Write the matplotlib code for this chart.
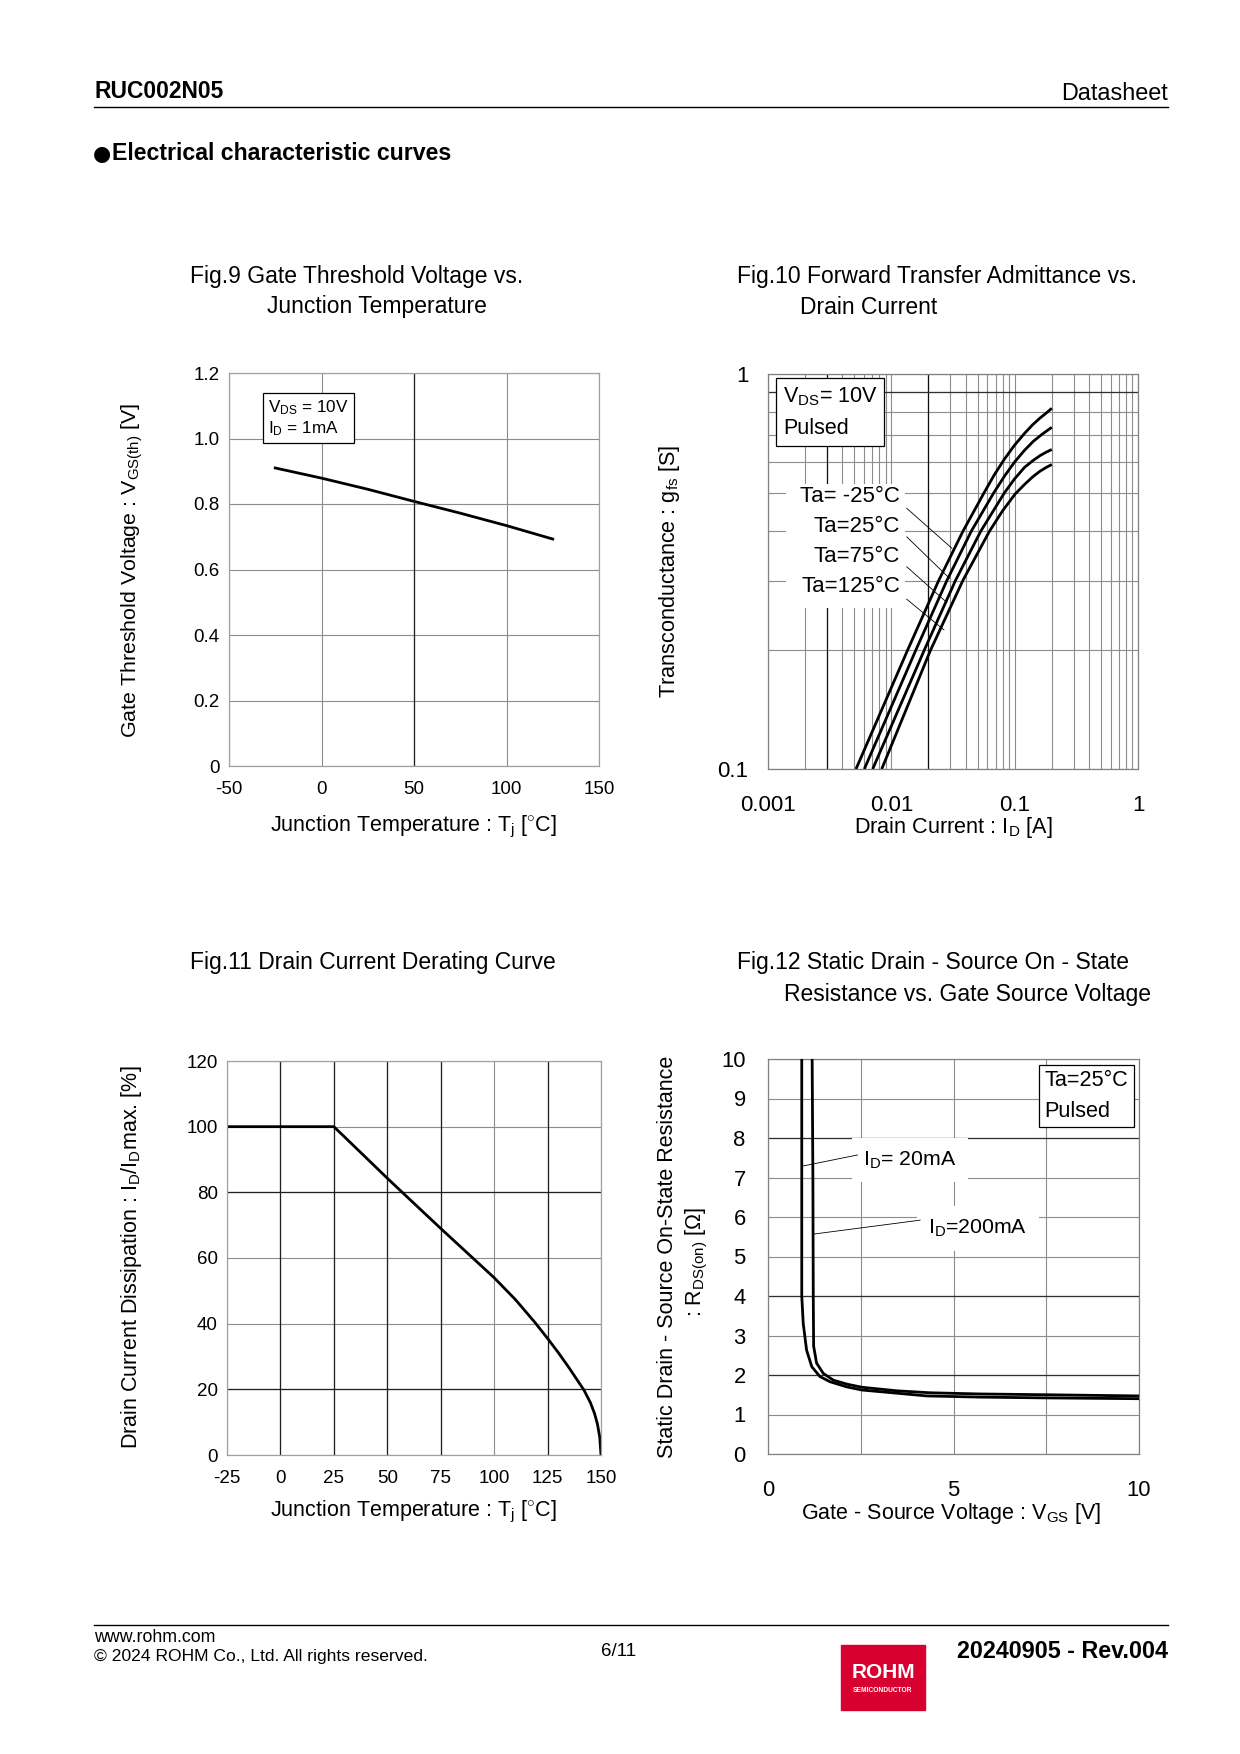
import matplotlib
matplotlib.use('Agg')
import matplotlib.pyplot as plt
from matplotlib.lines import Line2D
from matplotlib.patches import Rectangle
from matplotlib.ticker import FixedLocator, NullFormatter

plt.rcParams['font.family'] = ['Liberation Sans', 'DejaVu Sans']
plt.rcParams['mathtext.fontset'] = 'custom'
plt.rcParams['mathtext.rm'] = 'Liberation Sans'
plt.rcParams['mathtext.it'] = 'Liberation Sans:italic'
plt.rcParams['mathtext.bf'] = 'Liberation Sans:bold'
plt.rcParams['axes.unicode_minus'] = False

W, H = 1240, 1754

# ---- Fig.9 gate threshold voltage vs junction temperature
tj9 = [-25, 0, 25, 50, 75, 100, 125]
vth9 = [0.910, 0.879, 0.845, 0.808, 0.772, 0.734, 0.693]

# ---- Fig.10 forward transfer admittance vs drain current
ta_labels = ['Ta= -25°C', 'Ta=25°C', 'Ta=75°C', 'Ta=125°C']
id_m25 = [0.00517, 0.01355, 0.0242, 0.0381, 0.0564, 0.068, 0.082, 0.1, 0.122, 0.14, 0.16, 0.18, 0.2]
gfs_m25 = [0.1, 0.2, 0.3, 0.4, 0.5, 0.554, 0.607, 0.661, 0.711, 0.744, 0.773, 0.796, 0.819]
id_25 = [0.00604, 0.0158, 0.0282, 0.0445, 0.0676, 0.0832, 0.1, 0.1202, 0.1413, 0.166, 0.2]
gfs_25 = [0.1, 0.2, 0.3, 0.4, 0.5, 0.553, 0.599, 0.641, 0.675, 0.703, 0.733]
id_75 = [0.00706, 0.0185, 0.0331, 0.0531, 0.0825, 0.1, 0.12, 0.14, 0.16, 0.18, 0.2]
gfs_75 = [0.1, 0.2, 0.3, 0.4, 0.5, 0.543, 0.58, 0.603, 0.621, 0.634, 0.644]
id_125 = [0.00836, 0.0208, 0.0380, 0.0625, 0.08, 0.101, 0.12, 0.14, 0.16, 0.18, 0.2]
gfs_125 = [0.1, 0.2, 0.3, 0.4, 0.451, 0.497, 0.525, 0.549, 0.567, 0.58, 0.59]

# ---- Fig.11 drain current derating
tj11 = [-25, 25, 40, 50, 57, 75, 90, 100, 110, 118.8, 125, 130, 135, 142, 145, 147, 148.3, 149.4, 150]
id11 = [100, 100, 90.6, 84.3, 80, 69, 60, 54, 47.3, 40.6, 35.5, 31.2, 26.6, 19.8, 16, 12.6, 9.5, 5.5, 0]

# ---- Fig.12 static drain-source on-state resistance vs gate-source voltage
vgs_20 = [0.91, 0.91, 0.95, 1.04, 1.18, 1.40, 1.67, 2.12, 2.53, 3.47, 4.28, 5.71, 7.5, 10]
rds_20 = [10, 4.0, 3.3, 2.63, 2.21, 1.96, 1.83, 1.70, 1.62, 1.54, 1.47, 1.44, 1.42, 1.40]
vgs_200 = [1.19, 1.21, 1.22, 1.23, 1.31, 1.49, 1.76, 2.12, 2.53, 3.47, 4.37, 5.71, 7.5, 10]
rds_200 = [10, 7.0, 4.0, 2.73, 2.30, 2.04, 1.87, 1.77, 1.69, 1.60, 1.55, 1.52, 1.50, 1.47]


def fx(x):
    return x / W


def fy(y):
    return 1 - y / H


def add_axes(x0, y0, x1, y1):
    return fig.add_axes([fx(x0), fy(y1), (x1 - x0) / W, (y1 - y0) / H])


def style(ax, gridc='#8c8c8c', spc='#8c8c8c'):
    for s in ax.spines.values():
        s.set_color(spc)
        s.set_linewidth(0.9)
    ax.grid(True, which='both', color=gridc, lw=0.8)
    ax.set_axisbelow(True)


fig = plt.figure(figsize=(W / 100, H / 100), dpi=100)

# header / footer
fig.text(fx(94), fy(92), 'RUC002N05', fontsize=16.5, fontweight='bold', ha='left', va='center')
fig.text(fx(1168), fy(94), 'Datasheet', fontsize=16.8, ha='right', va='center')
fig.add_artist(Line2D([fx(94), fx(1168)], [fy(107), fy(107)], color='black', lw=1, transform=fig.transFigure))
fig.text(fx(93), fy(154), '●', family='DejaVu Sans', fontsize=15, ha='left', va='center')
fig.text(fx(112), fy(154), 'Electrical characteristic curves', fontsize=16.7, fontweight='bold',
         ha='left', va='center')
fig.add_artist(Line2D([fx(94), fx(1168)], [fy(1625), fy(1625)], color='black', lw=1, transform=fig.transFigure))
fig.text(fx(94), fy(1638), 'www.rohm.com', fontsize=12.8, ha='left', va='center')
fig.text(fx(94), fy(1657), '© 2024 ROHM Co., Ltd. All rights reserved.', fontsize=12.6, ha='left', va='center')
fig.text(fx(619), fy(1651), '6/11', fontsize=13.5, ha='center', va='center')
fig.text(fx(1168), fy(1651), '20240905 - Rev.004', fontsize=16.8, fontweight='bold', ha='right', va='center')
fig.add_artist(Rectangle((fx(841), fy(1710)), 84 / W, 65 / H, color='#d7002f', transform=fig.transFigure))
fig.text(fx(883), fy(1672), 'ROHM', fontsize=15, fontweight='bold', color='white', ha='center', va='center')
fig.text(fx(883), fy(1690), 'SEMICONDUCTOR', fontsize=4.8, fontweight='bold', color='white',
         ha='center', va='center')

# titles
fig.text(fx(190), fy(276), 'Fig.9 Gate Threshold Voltage vs.', fontsize=16.5, ha='left', va='center')
fig.text(fx(267), fy(307), 'Junction Temperature', fontsize=16.5, ha='left', va='center')
fig.text(fx(737), fy(276), 'Fig.10 Forward Transfer Admittance vs.', fontsize=16.5, ha='left', va='center')
fig.text(fx(800), fy(307), 'Drain Current', fontsize=16.5, ha='left', va='center')
fig.text(fx(190), fy(962), 'Fig.11 Drain Current Derating Curve', fontsize=16.5, ha='left', va='center')
fig.text(fx(737), fy(962), 'Fig.12 Static Drain - Source On - State', fontsize=16.5, ha='left', va='center')
fig.text(fx(784), fy(994), 'Resistance vs. Gate Source Voltage', fontsize=16.5, ha='left', va='center')

# ---------------- Fig.9
ax = add_axes(229, 373, 599, 766)
style(ax, spc='#a0a0a0')
ax.plot(tj9, vth9, color='black', lw=2)
ax.set_xlim(-50, 150)
ax.set_ylim(0, 1.2)
ax.set_xticks([-50, 0, 50, 100, 150])
ax.set_xticklabels(['-50', '0', '50', '100', '150'])
ax.set_yticks([0, 0.2, 0.4, 0.6, 0.8, 1.0, 1.2])
ax.set_yticklabels(['0', '0.2', '0.4', '0.6', '0.8', '1.0', '1.2'])
ax.tick_params(axis='x', length=0, pad=10.5, labelsize=13.5)
ax.tick_params(axis='y', length=0, pad=7, labelsize=13.5)
ax.axvline(50, color='#202020', lw=0.9)
ax.text(0.105, 0.935, 'V$_{\\mathrm{DS}}$ = 10V\nI$_{\\mathrm{D}}$ = 1mA', transform=ax.transAxes,
        fontsize=12.3, ha='left', va='top', linespacing=1.15,
        bbox=dict(boxstyle='square,pad=0.3', fc='white', ec='black', lw=0.9))
fig.text(fx(413), fy(827), 'Junction Temperature : T$_{\\mathrm{j}}$ [$^{\\circ}$C]', fontsize=15.5,
         ha='center', va='center')
fig.text(fx(132), fy(570), 'Gate Threshold Voltage : V$_{\\mathrm{GS(th)}}$ [V]', fontsize=15.4,
         ha='center', va='center', rotation=90)

# ---------------- Fig.10
ax = add_axes(768, 374, 1138, 769)
ax.set_xscale('log')
ax.set_yscale('log')
ax.set_xlim(0.001, 1)
ax.set_ylim(0.1, 1)
style(ax, gridc='#8c8c8c', spc='#808080')
ax.set_xticks([0.001, 0.01, 0.1, 1])
ax.set_xticklabels(['0.001', '0.01', '0.1', '1'])
ax.set_yticks([0.1, 1])
ax.set_yticklabels(['0.1', '1'])
ax.yaxis.set_minor_locator(FixedLocator([0.2, 0.3, 0.4, 0.5, 0.6, 0.7, 0.8, 0.9]))
ax.yaxis.set_minor_formatter(NullFormatter())
ax.xaxis.set_minor_formatter(NullFormatter())
ax.tick_params(which='both', length=0)
ax.tick_params(axis='x', pad=19, labelsize=16)
ax.tick_params(axis='y', pad=14, labelsize=16)
for xv in [0.003, 0.02]:
    ax.axvline(xv, color='#101010', lw=0.9, zorder=1)
ax.axhline(0.9, color='#303030', lw=0.9, zorder=1)
# white block behind the temperature labels
ax.add_patch(Rectangle((0.00141, 0.255), 0.0128 - 0.00141, 0.528 - 0.255,
                       fc='white', ec='none', zorder=2))
for xs, ys in [(id_m25, gfs_m25), (id_25, gfs_25), (id_75, gfs_75), (id_125, gfs_125)]:
    ax.plot(xs, ys, color='black', lw=2, zorder=5, solid_capstyle='butt', solid_joinstyle='round')
lab_y = [0.489, 0.411, 0.346, 0.290]
lead_start = [(0.01334, 0.457), (0.01334, 0.387), (0.01334, 0.325), (0.01334, 0.269)]
lead_end = [(0.031, 0.362), (0.0296, 0.304), (0.0282, 0.264), (0.0267, 0.225)]
for lab, ly, s, e in zip(ta_labels, lab_y, lead_start, lead_end):
    ax.text(0.0118, ly, lab, fontsize=16, ha='right', va='center', zorder=3)
    ax.plot([s[0], e[0]], [s[1], e[1]], color='black', lw=0.6, zorder=4)
ax.text(0.04, 0.972, 'V$_{\\mathrm{DS}}$= 10V\nPulsed', transform=ax.transAxes, fontsize=15.5,
        ha='left', va='top', linespacing=1.65, zorder=6,
        bbox=dict(boxstyle='square,pad=0.3', fc='white', ec='black', lw=0.9))
fig.text(fx(953), fy(828), 'Drain Current : I$_{\\mathrm{D}}$ [A]', fontsize=15.6,
         ha='center', va='center')
fig.text(fx(670), fy(571), 'Transconductance : g$_{\\mathrm{fs}}$ [S]', fontsize=15.6,
         ha='center', va='center', rotation=90)

# ---------------- Fig.11
ax = add_axes(227, 1061, 601, 1455)
style(ax, spc='#a0a0a0')
ax.plot(tj11, id11, color='black', lw=2, solid_joinstyle='round')
ax.set_xlim(-25, 150)
ax.set_ylim(0, 120)
ax.set_xticks([-25, 0, 25, 50, 75, 100, 125, 150])
ax.set_yticks([0, 20, 40, 60, 80, 100, 120])
ax.tick_params(axis='x', length=0, pad=10.5, labelsize=13.5)
ax.tick_params(axis='y', length=0, pad=6.5, labelsize=13.5)
for xv in [0, 25, 50, 75, 125]:
    ax.axvline(xv, color='#202020', lw=0.9, zorder=1)
for yv in [20, 80]:
    ax.axhline(yv, color='#202020', lw=0.9, zorder=1)
fig.text(fx(413), fy(1512), 'Junction Temperature : T$_{\\mathrm{j}}$ [$^{\\circ}$C]', fontsize=15.5,
         ha='center', va='center')
fig.text(fx(132), fy(1257), 'Drain Current Dissipation : I$_{\\mathrm{D}}$/I$_{\\mathrm{D}}$max. [%]',
         fontsize=15.5, ha='center', va='center', rotation=90)

# ---------------- Fig.12
ax = add_axes(768, 1059, 1139, 1454)
style(ax, spc='#808080')
ax.plot(vgs_20, rds_20, color='black', lw=2, zorder=5, solid_joinstyle='round')
ax.plot(vgs_200, rds_200, color='black', lw=2, zorder=5, solid_joinstyle='round')
ax.set_xlim(0, 10)
ax.set_ylim(0, 10)
ax.set_xticks([0, 5, 10])
ax.xaxis.set_minor_locator(FixedLocator([2.5, 7.5]))
ax.set_yticks(range(0, 11))
ax.tick_params(which='both', length=0)
ax.tick_params(axis='x', pad=19, labelsize=15.8)
ax.tick_params(axis='y', pad=16, labelsize=15.8)
for yv in [2, 4, 8]:
    ax.axhline(yv, color='#303030', lw=0.9, zorder=1)
ax.text(2.57, 7.44, 'I$_{\\mathrm{D}}$= 20mA', fontsize=15.3, ha='left', va='center', zorder=3,
        bbox=dict(boxstyle='square,pad=0.55', fc='white', ec='none'))
ax.plot([0.935, 2.41], [7.29, 7.57], color='black', lw=0.6, zorder=4)
ax.text(4.32, 5.71, 'I$_{\\mathrm{D}}$=200mA', fontsize=15.3, ha='left', va='center', zorder=3,
        bbox=dict(boxstyle='square,pad=0.55', fc='white', ec='none'))
ax.plot([1.25, 4.10], [5.57, 5.92], color='black', lw=0.6, zorder=4)
ax.text(0.745, 0.972, 'Ta=25°C\nPulsed', transform=ax.transAxes, fontsize=15.6,
        ha='left', va='top', linespacing=1.6, zorder=6,
        bbox=dict(boxstyle='square,pad=0.25', fc='white', ec='black', lw=0.9))
fig.text(fx(951), fy(1513), 'Gate - Source Voltage : V$_{\\mathrm{GS}}$ [V]', fontsize=15.5,
         ha='center', va='center')
fig.text(fx(667), fy(1257), 'Static Drain - Source On-State Resistance', fontsize=15.5,
         ha='center', va='center', rotation=90)
fig.text(fx(697), fy(1262), ': R$_{\\mathrm{DS(on)}}$ [Ω]', fontsize=15.5,
         ha='center', va='center', rotation=90)

fig.savefig('out.png', dpi=100)
